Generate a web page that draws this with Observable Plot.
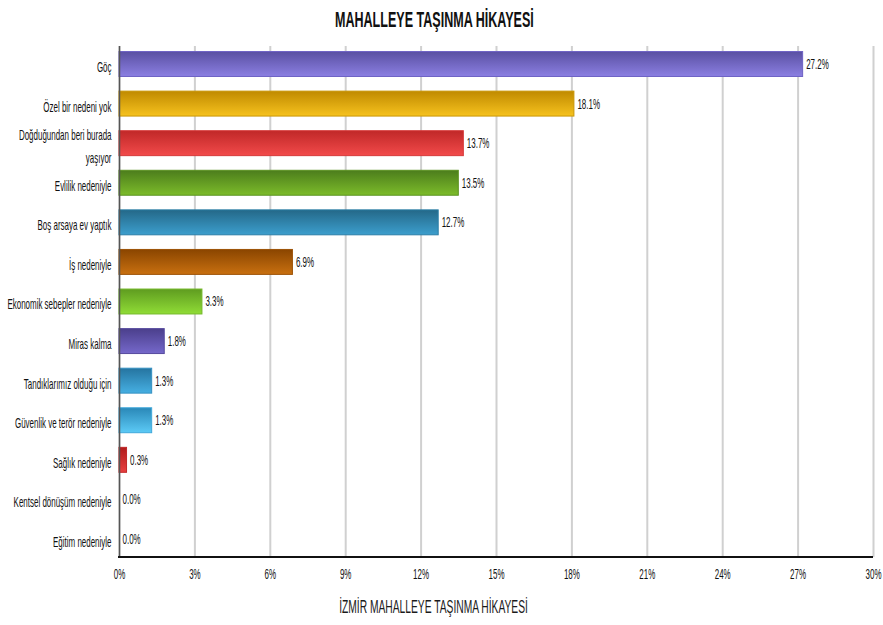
<!DOCTYPE html>
<html><head><meta charset="utf-8">
<script src="https://cdn.jsdelivr.net/npm/d3@7"></script>
<script src="https://cdn.jsdelivr.net/npm/@observablehq/plot@0.6"></script>
<style>
body{margin:0;background:#fff;font-family:"Liberation Sans",Arial,sans-serif;}
#title{height:38px;width:868px;text-align:center;overflow:visible;white-space:nowrap}
#title span{display:inline-block;font-weight:bold;font-size:22px;line-height:40px;color:#111;transform:scaleX(0.57);transform-origin:center}
#caption{height:36px;width:868px;text-align:center;white-space:nowrap}
#caption span{display:inline-block;font-size:18px;line-height:36px;color:#1a1a1a;transform:scaleX(0.57);transform-origin:center}
</style></head><body>
<div id="title"><span>MAHALLEYE TAŞINMA HİKAYESİ</span></div>
<div id="chart"></div>
<div id="caption"><span>İZMİR MAHALLEYE TAŞINMA HİKAYESİ</span></div>
<script>
const categories = [
  "Göç",
  "Özel bir nedeni yok",
  "Doğduğundan beri burada yaşıyor",
  "Evlilik nedeniyle",
  "Boş arsaya ev yaptık",
  "İş nedeniyle",
  "Ekonomik sebepler nedeniyle",
  "Miras kalma",
  "Tandıklarımız olduğu için",
  "Güvenlik ve terör nedeniyle",
  "Sağlık nedeniyle",
  "Kentsel dönüşüm nedeniyle",
  "Eğitim nedeniyle"
];
const values = [27.2, 18.1, 13.7, 13.5, 12.7, 6.9, 3.3, 1.8, 1.3, 1.3, 0.3, 0.0, 0.0];
const xTicks = [0, 3, 6, 9, 12, 15, 18, 21, 24, 27, 30];
const topColors = ["#5a50a2", "#c08a00", "#c02828", "#4c7d1c", "#246888", "#8a4500", "#5f9c20", "#4b3f8c", "#2574a0", "#2a88b8", "#b01c1c", "#888888", "#888888"];
const bottomColors = ["#8b7fe2", "#f6c21e", "#f24a4a", "#7cbb2a", "#3c9ecd", "#c87010", "#90dc36", "#7568ca", "#46afe2", "#5ccaf6", "#e84040", "#aaaaaa", "#aaaaaa"];
const edgeColors = ["#6e62c4", "#c99606", "#d63838", "#5a9220", "#2b7ea6", "#9c5206", "#74b82a", "#564a9e", "#3490c2", "#40a8da", "#c02828", "#999999", "#999999"];

const data = categories.map((c, i) => ({category: c, value: values[i], grad: `url(#grad${i})`, edge: edgeColors[i]}));

const fig = Plot.plot({
  width: 883, height: 551,
  marginTop: 8, marginBottom: 32, marginLeft: 119, marginRight: 10,
  style: {fontFamily: '"Liberation Sans",Arial,sans-serif', fontSize: "14px", background: "white", color: "#111"},
  x: {domain: [0, 30], ticks: xTicks},
  y: {domain: categories, paddingInner: 0.37, paddingOuter: 0.14, round: false},
  color: {type: "identity"},
  marks: [
    Plot.gridX(xTicks, {stroke: "#d0d0d0", strokeWidth: 2, strokeOpacity: 1}),
    Plot.axisX({ticks: xTicks, tickFormat: d => d + "%", tickSize: 0, tickPadding: 12, label: null, fontSize: 14, fill: "#111"}),
    Plot.axisY({tickSize: 0, tickPadding: 8, label: null, lineHeight: 1.65, fontSize: 14, fill: "#111",
      tickFormat: d => d === "Doğduğundan beri burada yaşıyor" ? "Doğduğundan beri burada\nyaşıyor" : d}),
    Plot.barX(data, {y: "category", x: "value", fill: "grad", stroke: "edge", strokeWidth: 1}),
    Plot.text(data, {y: "category", x: "value", text: d => d.value.toFixed(1) + "%", textAnchor: "start", dx: 3, fill: "#111", fontSize: 14}),
    Plot.ruleX([0], {stroke: "#555", strokeWidth: 1.5})
  ]
});

const svg = d3.select(fig);
const defs = svg.insert("defs", ":first-child");
topColors.forEach((c, i) => {
  const g = defs.append("linearGradient").attr("id", "grad" + i)
    .attr("x1", 0).attr("y1", 0).attr("x2", 0).attr("y2", 1);
  g.append("stop").attr("offset", "0%").attr("stop-color", c);
  g.append("stop").attr("offset", "100%").attr("stop-color", bottomColors[i]);
});

// condensed look: squeeze every text horizontally about its anchor
const S = 0.57;
svg.selectAll("text").each(function () {
  const t = d3.select(this);
  const tr = t.attr("transform") || "";
  t.attr("transform", `${tr} scale(${S},1)`);
});

const xr = fig.scale("x").range;
const yr = fig.scale("y").range;
svg.append("line")
  .attr("x1", xr[0] - 1).attr("x2", xr[1])
  .attr("y1", yr[1]).attr("y2", yr[1])
  .attr("stroke", "#111").attr("stroke-width", 2);

document.getElementById("chart").appendChild(fig);
</script>
</body></html>
